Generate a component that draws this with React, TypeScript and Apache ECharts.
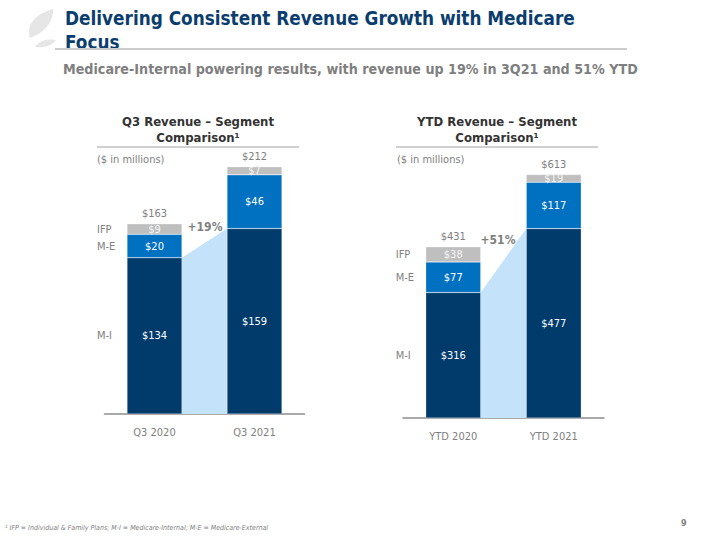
import React, { useEffect, useRef } from "react";
import * as echarts from "echarts";

const q3Categories = ["Q3 2020", "Q3 2021"];
const q3MI = [134, 159];
const q3ME = [20, 46];
const q3IFP = [9, 7];
const q3Totals = [163, 212];
const q3Growth = "+19%";

const ytdCategories = ["YTD 2020", "YTD 2021"];
const ytdMI = [316, 477];
const ytdME = [77, 117];
const ytdIFP = [38, 19];
const ytdTotals = [431, 613];
const ytdGrowth = "+51%";

const segmentNames = ["IFP", "M-E", "M-I"];

const FONT = "'DejaVu Sans Condensed', 'DejaVu Sans', Verdana, sans-serif";
const C_MI = "#003b6c";
const C_ME = "#0071c1";
const C_IFP = "#bfbfbf";
const C_BAND = "#c4e3fb";
const GRAY = "#808080";
const BAR_W = 55;

const LEAF =
  "M 30 38 C 26 26 34 14 53 9 C 54 22 44 33 30 38 Z M 35 47 C 39 41 47 38 56 40 C 52 46 44 48 35 47 Z";
echarts.graphic.registerShape("logo", echarts.graphic.extendPath(LEAF as any, {}) as any);

function barSeries(idx: number, name: string, data: number[], color: string, labelColor: string) {
  return {
    type: "bar",
    name,
    xAxisIndex: idx,
    yAxisIndex: idx,
    stack: "s" + idx,
    barWidth: BAR_W,
    z: 3,
    data,
    itemStyle: { color, borderColor: "rgba(255,255,255,0.5)", borderWidth: 0.5 },
    label: {
      show: true,
      position: "inside",
      color: labelColor,
      fontFamily: FONT,
      fontSize: 11,
      formatter: (p: any) => "$" + p.value,
    },
  };
}

function overlay(idx: number, mi: number[], me: number[], ifp: number[], totals: number[]) {
  return {
    type: "custom",
    xAxisIndex: idx,
    yAxisIndex: idx,
    z: 1,
    silent: true,
    clip: false,
    data: [[0, 0]],
    renderItem: (_params: any, api: any) => {
      const half = BAR_W / 2;
      const p0 = api.coord([0, mi[0]]);
      const p1 = api.coord([1, mi[1]]);
      const b0 = api.coord([0, 0]);
      const b1 = api.coord([1, 0]);
      const children: any[] = [
        {
          type: "polygon",
          shape: {
            points: [
              [p0[0] + half, p0[1]],
              [p1[0] - half, p1[1]],
              [b1[0] - half, b1[1]],
              [b0[0] + half, b0[1]],
            ],
          },
          style: { fill: C_BAND },
        },
      ];
      totals.forEach((t, i) => {
        const c = api.coord([i, t]);
        children.push({
          type: "text",
          x: c[0],
          y: c[1] - 10,
          style: {
            text: "$" + t,
            fill: GRAY,
            fontFamily: FONT,
            fontSize: 11,
            align: "center",
            verticalAlign: "middle",
          },
        });
      });
      const mids = [
        mi[0] + me[0] + ifp[0] / 2,
        mi[0] + me[0] / 2,
        mi[0] / 2,
      ];
      mids.forEach((v, k) => {
        const c = api.coord([0, v]);
        children.push({
          type: "text",
          x: c[0] - half - 30,
          y: c[1],
          style: {
            text: segmentNames[k],
            fill: GRAY,
            fontFamily: FONT,
            fontSize: 11,
            align: "left",
            verticalAlign: "middle",
          },
        });
      });
      return { type: "group", children };
    },
  };
}

function xAxis(idx: number, cats: string[]) {
  return {
    type: "category",
    gridIndex: idx,
    data: cats,
    axisLine: { show: true, lineStyle: { color: "#8f8f8f", width: 1.5 } },
    axisTick: { show: false },
    axisLabel: { color: GRAY, fontFamily: FONT, fontSize: 11, margin: 13 },
  };
}

function yAxis(idx: number, max: number) {
  return { type: "value", gridIndex: idx, min: 0, max, show: false, splitLine: { show: false } };
}

function txt(x: number, y: number, text: string, opts: any = {}) {
  return {
    type: "text",
    x,
    y,
    silent: true,
    style: {
      text,
      fill: opts.fill || GRAY,
      fontFamily: FONT,
      fontSize: opts.fontSize || 11,
      fontWeight: opts.fontWeight || "normal",
      fontStyle: opts.fontStyle || "normal",
      align: opts.align || "left",
      verticalAlign: "middle",
    },
  };
}

function rule(x1: number, x2: number, y: number, w: number, color: string) {
  return { type: "line", silent: true, shape: { x1, y1: y, x2, y2: y }, style: { stroke: color, lineWidth: w } };
}

export default function App() {
  const ref = useRef<HTMLDivElement>(null);
  useEffect(() => {
    if (!ref.current) return;
    const chart = echarts.init(ref.current, undefined, { renderer: "svg" });
    chart.setOption({
      animation: false,
      backgroundColor: "#ffffff",
      grid: [
        { left: 104.5, width: 200, top: 134, bottom: 126 },
        { left: 403, width: 201, top: 148, bottom: 122 },
      ],
      xAxis: [xAxis(0, q3Categories), xAxis(1, ytdCategories)],
      yAxis: [yAxis(0, 240), yAxis(1, 680)],
      series: [
        overlay(0, q3MI, q3ME, q3IFP, q3Totals),
        barSeries(0, "M-I", q3MI, C_MI, "#ffffff"),
        barSeries(0, "M-E", q3ME, C_ME, "#ffffff"),
        barSeries(0, "IFP", q3IFP, C_IFP, "#f4f4f4"),
        overlay(1, ytdMI, ytdME, ytdIFP, ytdTotals),
        barSeries(1, "M-I", ytdMI, C_MI, "#ffffff"),
        barSeries(1, "M-E", ytdME, C_ME, "#ffffff"),
        barSeries(1, "IFP", ytdIFP, C_IFP, "#f4f4f4"),
      ],
      graphic: [
        { type: "logo", x: 0, y: 0, silent: true, style: { fill: "#e6e6e6" } },
        txt(65, 18, "Delivering Consistent Revenue Growth with Medicare", { fill: "#0b3d6e", fontSize: 18.8, fontWeight: "bold" }),
        txt(65, 42, "Focus", { fill: "#0b3d6e", fontSize: 18.8, fontWeight: "bold" }),
        rule(55, 627, 49, 2, "#cccccc"),
        txt(63, 69, "Medicare-Internal powering results, with revenue up 19% in 3Q21 and 51% YTD", { fontSize: 14.2, fontWeight: "bold", fill: "#7f7f7f" }),
        txt(198, 121, "Q3 Revenue – Segment", { align: "center", fontSize: 13, fontWeight: "bold", fill: "#333333" }),
        txt(198, 137, "Comparison¹", { align: "center", fontSize: 13, fontWeight: "bold", fill: "#333333" }),
        rule(97, 299, 147, 1.5, "#c0c0c0"),
        txt(97, 159, "($ in millions)", {}),
        txt(205, 227, q3Growth, { align: "center", fontSize: 12, fontWeight: "bold" }),
        txt(497, 121, "YTD Revenue – Segment", { align: "center", fontSize: 13, fontWeight: "bold", fill: "#333333" }),
        txt(497, 137, "Comparison¹", { align: "center", fontSize: 13, fontWeight: "bold", fill: "#333333" }),
        rule(396, 598, 147, 1.5, "#c0c0c0"),
        txt(397, 159, "($ in millions)", {}),
        txt(498, 240, ytdGrowth, { align: "center", fontSize: 12, fontWeight: "bold" }),
        txt(5, 528, "¹ IFP = Individual & Family Plans; M-I = Medicare-Internal; M-E = Medicare-External", { fontSize: 7, fontStyle: "italic" }),
        txt(681, 523, "9", { fontSize: 9, fontWeight: "bold" }),
      ],
    });
    return () => chart.dispose();
  }, []);
  return (
    <div
      ref={ref}
      style={{ position: "fixed", left: 0, top: 0, width: 720, height: 540, background: "#fff" }}
    />
  );
}
